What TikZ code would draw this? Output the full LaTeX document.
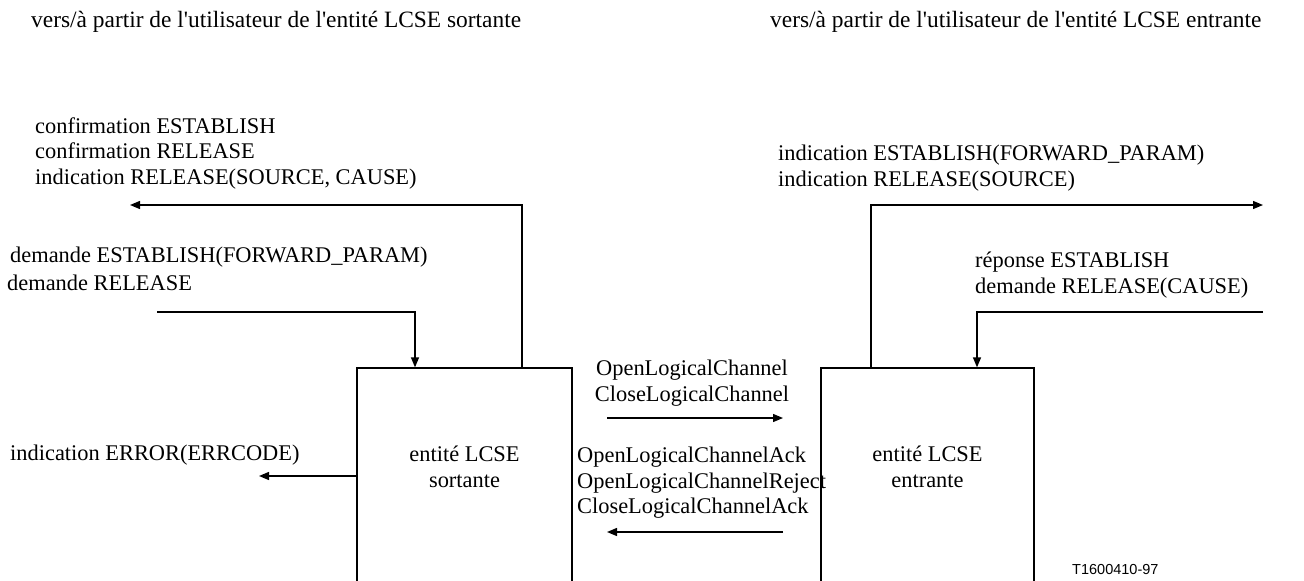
\documentclass[tikz,border=0pt]{standalone}
\usepackage{fontspec}
\setmainfont{Liberation Serif}
\newfontfamily\labelsans{Liberation Sans}
\usetikzlibrary{arrows.meta}
\tikzset{
  lbl/.style={inner sep=0pt, align=left, anchor=west},
  hdr/.style={inner sep=0pt, anchor=west, font=\fontsize{23.4}{26}\selectfont},
  entity/.style={draw, line width=1.3pt, minimum width=215pt, minimum height=233pt, inner sep=0pt},
  arr/.style={line width=1.3pt, -{Triangle[length=10pt,width=8pt]}},
}
\begin{document}
\begin{tikzpicture}[x=1pt,y=-1pt, font=\fontsize{22.4}{25.5}\selectfont]
\useasboundingbox (0,0) rectangle (1304,581);
\clip (0,0) rectangle (1304,581);
% headers
\node[hdr] (hl) at (31,22) {vers/à partir de l\textquotesingle utilisateur de l\textquotesingle entité LCSE sortante};
\node[hdr] (hr) at (770,22) {vers/à partir de l\textquotesingle utilisateur de l\textquotesingle entité LCSE entrante};
% boxes
\node[entity] (lb) at (464.5,484.5) {};
\node[entity, minimum width=213pt] (rb) at (927.5,484.5) {};
\node[inner sep=0pt, align=center] (lbt) at (464.5,467) {entité LCSE\\sortante};
\node[inner sep=0pt, align=center] (rbt) at (927.5,467) {entité LCSE\\entrante};
% left texts
\node[lbl] (lconf) at (35,153) {confirmation ESTABLISH\\confirmation RELEASE\\indication RELEASE(SOURCE, CAUSE)};
\node[lbl] (ldem1) at (10,257) {demande ESTABLISH(FORWARD\_PARAM)};
\node[lbl] (ldem2) at (7,283) {demande RELEASE};
\node[lbl] (lerrt) at (10,455) {indication ERROR(ERRCODE)};
% right texts
\node[lbl] (rind) at (778,168) {indication ESTABLISH(FORWARD\_PARAM)\\indication RELEASE(SOURCE)};
\node[lbl] (rrep) at (975,275) {réponse ESTABLISH\\demande RELEASE(CAUSE)};
% middle texts
\node[inner sep=0pt, align=center] (mtop) at (692,383) {OpenLogicalChannel\\CloseLogicalChannel};
\node[lbl] (mbot) at (577,483) {OpenLogicalChannelAck\\OpenLogicalChannelReject\\CloseLogicalChannelAck};
\node[inner sep=0pt, anchor=west, font=\labelsans\fontsize{14.5}{16}\selectfont] (fig) at (1072,570) {T1600410-97};
% coordinates
\coordinate (lout) at (130,205);
\coordinate (lin) at (157,312);
\coordinate (lerr) at (259,476);
\coordinate (rout) at (1263,205);
\coordinate (rin) at (1263,312);
\coordinate (m1a) at (607,418);
\coordinate (m1b) at (783,418);
\coordinate (m2a) at (783,532);
\coordinate (m2b) at (607,532);
% connectors
\draw[arr] ([xshift=57.5pt]lb.north) |- (lout);
\draw[arr] (lin) -| ([xshift=-49.5pt]lb.north);
\draw[arr] (lb.west |- lerr) -- (lerr);
\draw[arr] ([xshift=-56.5pt]rb.north) |- (rout);
\draw[arr] (rin) -| ([xshift=49.5pt]rb.north);
\draw[arr] (m1a) -- (m1b);
\draw[arr] (m2a) -- (m2b);
\end{tikzpicture}
\end{document}
